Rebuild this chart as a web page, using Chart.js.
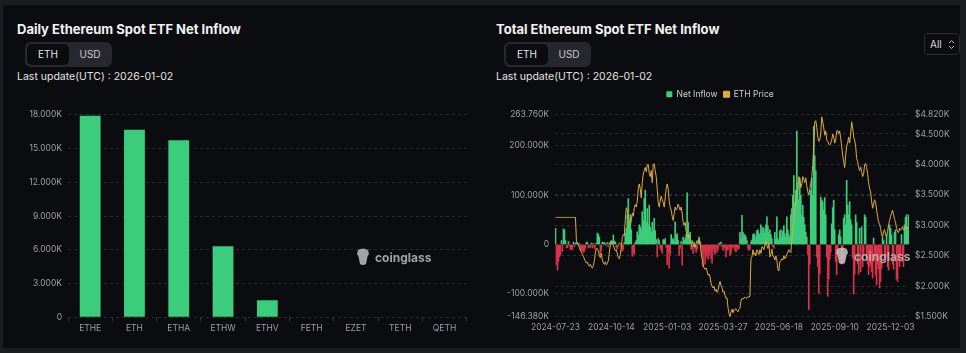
<!DOCTYPE html>
<html lang="en">
<head>
<meta charset="UTF-8">
<title>Ethereum Spot ETF Net Inflow</title>
<script src="https://cdn.jsdelivr.net/npm/chart.js"></script>
<style>
    html, body { margin: 0; padding: 0; }
    body {
        width: 966px;
        height: 353px;
        background: #1c1d21;
        font-family: Inter, 'Noto Sans', sans-serif;
        position: relative;
        overflow: hidden;
    }
    .frame { position: absolute; left: 3px; top: 5px; width: 957px; height: 343px; background: #0b0c0f; }
    .title { position: absolute; top: 22px; font-size: 13px; line-height: 15px; font-weight: 700; color: #f2f2f2; white-space: nowrap; }
    .toggle { position: absolute; top: 42px; width: 87px; height: 25px; background: #26282d; border-radius: 6px; }
    .toggle span { position: absolute; top: 2px; width: 42px; height: 21px; line-height: 21px; text-align: center; font-size: 10px; color: #c9cacd; }
    .toggle span.on { left: 2px; background: #0b0c0f; border-radius: 5px; color: #e6e6e6; }
    .toggle span.off { left: 44px; }
    .updated { position: absolute; top: 71px; font-size: 10.5px; line-height: 12px; color: #e2e2e2; white-space: nowrap; }
    .select { position: absolute; left: 924px; top: 33px; width: 34px; height: 20px; border: 1px solid #2b2d32; border-radius: 4px; }
    .select span { position: absolute; left: 5px; top: 4px; font-size: 10px; line-height: 12px; color: #d8d8d8; }
    .select svg { position: absolute; left: 23px; top: 5px; }
    canvas { position: absolute; }
    .mark { position: absolute; display: flex; align-items: center; gap: 4px; font-size: 12px; font-weight: 700; color: rgba(190, 190, 190, 0.85); }
</style>
</head>
<body>
<div class="frame"></div>

<div class="title" style="left:17px">Daily Ethereum Spot ETF Net Inflow</div>
<div class="toggle" style="left:25px"><span class="on">ETH</span><span class="off">USD</span></div>
<div class="updated" style="left:17px">Last update(UTC) : 2026-01-02</div>
<canvas id="dailyChart" width="480" height="240" style="left:0;top:100px"></canvas>

<div class="title" style="left:496px">Total Ethereum Spot ETF Net Inflow</div>
<div class="toggle" style="left:504px"><span class="on">ETH</span><span class="off">USD</span></div>
<div class="updated" style="left:496px">Last update(UTC) : 2026-01-02</div>
<div class="select"><span>All</span>
    <svg width="7" height="11" viewBox="0 0 7 11"><path d="M1 4 L3.5 1.5 L6 4 M1 7 L3.5 9.5 L6 7" fill="none" stroke="#bbb" stroke-width="1"/></svg>
</div>
<canvas id="totalChart" width="480" height="256" style="left:480px;top:84px"></canvas>

<div class="mark" style="left:355px;top:248px">
    <svg width="16" height="18" viewBox="0 0 16 18"><path d="M3 2 Q8 -1 13 2 L14 6 Q12 8 12 11 L11 16 Q8 18 5 16 L4 11 Q4 8 2 6 Z" fill="rgba(190,190,190,0.85)"/></svg>
    <span>coinglass</span>
</div>
<div class="mark" style="left:834px;top:247px">
    <svg width="16" height="18" viewBox="0 0 16 18"><path d="M3 2 Q8 -1 13 2 L14 6 Q12 8 12 11 L11 16 Q8 18 5 16 L4 11 Q4 8 2 6 Z" fill="rgba(200,200,200,0.85)"/></svg>
    <span>coinglass</span>
</div>

<script>
    // Daily flow per fund (ETH)
    const tickers = ['ETHE', 'ETH', 'ETHA', 'ETHW', 'ETHV', 'FETH', 'EZET', 'TETH', 'QETH'];
    const dailyFlow = [17910, 16670, 15720, 6310, 1510, 0, 0, 0, 0];

    // Total flow history: net inflow in thousand ETH, price in USD
    const dateTicks = ['2024-07-23', '2024-10-14', '2025-01-03', '2025-03-27', '2025-06-18', '2025-09-10', '2025-12-03'];
    const netInflow = [
        33, -41, -52, -34, -25, -21, 8, -14, 32, 30,
        8, -7, -6, 6, -3, -11, -9, -10, 5, -4,
        3, 4, 3, -2, 2, -12, -10, -13, -16, -14,
        -8, 5, 4, -7, -5, -6, 3, -7, 2, -8,
        -4, 3, 23, 20, 15, -21, -12, 5, 3, 4,
        2, -3, 4, -5, 3, 5, 8, 6, 19, 7,
        5, -6, -9, -4, 3, 2, -5, -14, -10, 4,
        22, 33, 60, 93, 40, 60, 30, -24, -15, -20,
        4, 8, 26, 18, 40, 36, 30, 67, 48, 93,
        110, 45, 73, 40, 80, 35, 25, 45, 30, 53,
        28, 10, -25, 12, 8, -8, -12, -18, 10, 8,
        12, -6, -41, -15, -48, -20, 20, 10, 12, 5,
        46, 18, 22, 8, -22, -8, 6, -42, 15, 8,
        12, 20, 105, 45, 20, 25, -10, 8, -18, 5,
        -8, -16, -10, 4, 15, 6, -5, -20, -45, -15,
        -40, -25, -18, -30, -22, -12, -28, -38, -8, -15,
        -20, -5, -16, -10, 3, -3, 5, -4, -12, -5,
        -8, -25, -12, -10, -4, -22, -18, -8, -4, -5,
        -12, -15, -6, -10, -8, 25, 12, 59, 25, 18,
        20, 15, 8, -8, -12, -10, 5, 9, 20, 22,
        18, 12, 28, 30, 22, 20, 40, 28, 35, 32,
        22, 40, 56, 38, 25, 30, 20, 12, -5, -8,
        25, 10, 56, 12, 8, 28, 30, 15, 28, 38,
        22, 15, 56, 30, 20, 15, 60, 73, 100, 140,
        85, 110, 230, 125, 90, 135, 100, 60, 80, 55,
        40, 25, 15, -20, -132, -40, 110, 135, 100, 240,
        180, 150, -25, -45, -99, -60, 96, 90, 87, 70,
        95, 60, -25, -105, -70, -30, -15, 42, 75, 90,
        30, -35, -61, -20, 20, 30, 15, -40, -30, 53,
        60, 40, 130, 80, 60, 87, 50, 40, -27, -100,
        -60, 60, 45, -40, -60, 33, -55, 36, -45, -20,
        60, 55, -30, -40, -61, -45, -40, -55, -68, 13,
        -30, -62, -82, -40, -50, -88, -75, -48, 13, 8,
        -30, -25, 20, -45, -52, 40, 33, 20, -40, -50,
        25, 30, -70, -75, -30, -45, -20, 20, -35, -45,
        40, 55, 60, 35, 60
    ];
    const ethPrice = [
        3130, 3130, 3130, 3130, 3130, 3130, 3130, 3130, 3130, 3130,
        3130, 3130, 3130, 3130, 3130, 3130, 3130, 3130, 3130, 3130,
        3130, 2740, 2710, 2680, 2630, 2600, 2560, 2520, 2490, 2450,
        2410, 2380, 2400, 2350, 2330, 2360, 2310, 2300, 2340, 2420,
        2550, 2630, 2610, 2580, 2500, 2470, 2540, 2430, 2380, 2360,
        2400, 2350, 2380, 2420, 2560, 2680, 2740, 2720, 2660, 2630,
        2580, 2600, 2530, 2470, 2450, 2520, 2650, 2800, 2850, 2830,
        3100, 3290, 3240, 3150, 3070, 3000, 3080, 3200, 3150, 3290,
        3340, 3300, 3400, 3600, 3680, 3600, 3450, 3700, 3840, 3900,
        3950, 3880, 3990, 4000, 3850, 3800, 3900, 3700, 4000, 4010,
        3900, 3800, 3600, 3380, 3300, 3400, 3480, 3420, 3380, 3300,
        3450, 3600, 3680, 3600, 3400, 3300, 3250, 3150, 3080, 3200,
        3300, 3250, 3280, 3350, 3300, 3250, 3300, 3200, 3050, 3000,
        3050, 2900, 2850, 2800, 2850, 2780, 2700, 2650, 2660, 2700,
        2640, 2700, 2750, 2720, 2780, 2700, 2550, 2450, 2350, 2300,
        2280, 2300, 2250, 2180, 2200, 2150, 2050, 2000, 1970, 2000,
        1920, 1950, 1900, 1930, 2020, 2080, 2010, 1980, 1900, 1920,
        1850, 1800, 1810, 1650, 1550, 1500, 1580, 1620, 1570, 1600,
        1620, 1630, 1600, 1580, 1620, 1640, 1760, 1800, 1790, 1810,
        1820, 1800, 1810, 1830, 1820, 1840, 2450, 2480, 2600, 2520,
        2550, 2500, 2600, 2560, 2520, 2600, 2540, 2650, 2640, 2600,
        2680, 2740, 2660, 2620, 2700, 2480, 2520, 2610, 2500, 2480,
        2430, 2500, 2420, 2280, 2250, 2400, 2420, 2450, 2430, 2500,
        2450, 2480, 2520, 2560, 2600, 2570, 2550, 2780, 2950, 3100,
        3270, 3400, 3500, 3600, 3800, 3750, 3620, 3680, 3800, 3750,
        3700, 3780, 3650, 3550, 3500, 3600, 3680, 3800, 4000, 4300,
        4700, 4720, 4610, 4450, 4380, 4400, 4500, 4780, 4700, 4600,
        4480, 4550, 4400, 4380, 4330, 4320, 4350, 4400, 4500, 4450,
        4350, 4400, 4550, 4560, 4500, 4550, 4430, 4300, 4150, 4050,
        3950, 4150, 4300, 4350, 4450, 4350, 4500, 4700, 4600, 4450,
        4400, 4300, 4100, 4050, 3950, 3900, 3960, 3880, 3800, 3850,
        4000, 4020, 3950, 3850, 3700, 3600, 3550, 3400, 3280, 3350,
        3420, 3380, 3250, 3150, 3050, 3020, 2950, 2850, 2800, 2900,
        2930, 2850, 2820, 2900, 3000, 3080, 3150, 3200, 3250, 3180,
        3100, 3050, 2950, 2900, 2880, 2950, 2920, 2950, 2980, 2920,
        2960, 2970, 2940, 2980, 2990
    ];
    const inflowTicks = [-146.38, -100, 0, 100, 200, 263.76];
    const priceTicks = [1500, 2000, 2500, 3000, 3500, 4000, 4500, 4820];

    const GREEN = '#3ccd7c';
    const RED = '#d8334a';
    const GOLD = '#dfab3d';
    const GRID = '#2a2d33';
    const TICK = '#9c9fa5';
    const tickFont = { family: 'Inter', size: 8.5 };

    // every 56th bar carries one of the axis dates
    const tickStep = 56;
    function addWeekdays(iso, n) {
        const d = new Date(iso + 'T00:00:00Z');
        let k = 0;
        while (k < n) {
            d.setUTCDate(d.getUTCDate() + 1);
            const w = d.getUTCDay();
            if (w !== 0 && w !== 6) k++;
        }
        return d.toISOString().slice(0, 10);
    }
    const dates = netInflow.map((_, i) => addWeekdays(dateTicks[Math.floor(i / tickStep)], i % tickStep));

    const fmtK = v => v === 0 ? '0' : (v / 1000).toFixed(3) + 'K';

    // Chart 1: daily inflow per fund
    new Chart(document.getElementById('dailyChart'), {
        type: 'bar',
        data: {
            labels: tickers,
            datasets: [{
                label: 'Net Inflow',
                data: dailyFlow,
                backgroundColor: GREEN,
                categoryPercentage: 1,
                barPercentage: 0.47
            }]
        },
        options: {
            responsive: false,
            animation: false,
            layout: { padding: { top: 14.7, right: 13.3, bottom: 6.7, left: 0 } },
            plugins: { legend: { display: false }, tooltip: { enabled: false } },
            scales: {
                x: {
                    grid: { drawOnChartArea: false, drawTicks: true, tickLength: 4, color: '#34373d' },
                    border: { display: false },
                    ticks: { color: TICK, font: tickFont, padding: 2, maxRotation: 0 },
                    afterFit: s => { s.height = 16; }
                },
                y: {
                    min: 0,
                    max: 18000,
                    grid: { color: GRID, drawTicks: false },
                    border: { display: false, dash: [3, 3] },
                    ticks: { stepSize: 3000, color: TICK, font: tickFont, padding: 6, callback: fmtK },
                    afterFit: s => { s.width = 68; }
                }
            }
        }
    });

    // legend sits a little higher above the plot than Chart.js puts it
    const legendGap = {
        id: 'legendGap',
        beforeInit(chart) {
            const fit = chart.legend.fit;
            chart.legend.fit = function () { fit.call(this); this.height += 6; };
        }
    };

    // Chart 2: total inflow with ETH price
    new Chart(document.getElementById('totalChart'), {
        data: {
            labels: dates,
            datasets: [{
                type: 'bar',
                label: 'Net Inflow',
                data: netInflow,
                backgroundColor: netInflow.map(v => v >= 0 ? GREEN : RED),
                categoryPercentage: 1,
                barPercentage: 1,
                yAxisID: 'y',
                order: 1
            }, {
                type: 'line',
                label: 'ETH Price',
                data: ethPrice,
                borderColor: GOLD,
                backgroundColor: GOLD,
                borderWidth: 1,
                pointRadius: 0,
                tension: 0,
                yAxisID: 'y1',
                order: 0
            }]
        },
        options: {
            responsive: false,
            animation: false,
            layout: { padding: { top: 0, right: 0, bottom: 9.3, left: 0 } },
            plugins: {
                tooltip: { enabled: false },
                legend: {
                    labels: {
                        color: '#d0d0d0',
                        font: { family: 'Inter', size: 8.5 },
                        boxWidth: 6,
                        boxHeight: 6,
                        padding: 6,
                        sort: (a, b) => a.datasetIndex - b.datasetIndex
                    }
                }
            },
            scales: {
                x: {
                    grid: { display: false, drawTicks: false },
                    border: { display: false },
                    ticks: {
                        autoSkip: false,
                        maxRotation: 0,
                        minRotation: 0,
                        color: TICK,
                        font: tickFont,
                        padding: 6,
                        callback: (v, i) => i % tickStep === 0 ? dates[i] : null
                    },
                    afterFit: s => { s.height = 14; }
                },
                y: {
                    position: 'left',
                    min: -146.38,
                    max: 263.76,
                    afterBuildTicks: s => { s.ticks = inflowTicks.map(v => ({ value: v })); },
                    grid: { color: GRID, drawTicks: false },
                    border: { display: false, dash: [3, 3] },
                    ticks: { color: TICK, font: tickFont, padding: 6, callback: v => v === 0 ? '0' : v.toFixed(3) + 'K' },
                    afterFit: s => { s.width = 75; }
                },
                y1: {
                    position: 'right',
                    min: 1500,
                    max: 4820,
                    afterBuildTicks: s => { s.ticks = priceTicks.map(v => ({ value: v })); },
                    grid: { color: GRID, drawTicks: false },
                    border: { display: false, dash: [3, 3] },
                    ticks: { color: TICK, font: tickFont, padding: 6, callback: v => '$' + (v / 1000).toFixed(3) + 'K' },
                    afterFit: s => { s.width = 51; }
                }
            }
        },
        plugins: [legendGap]
    });
</script>
</body>
</html>
